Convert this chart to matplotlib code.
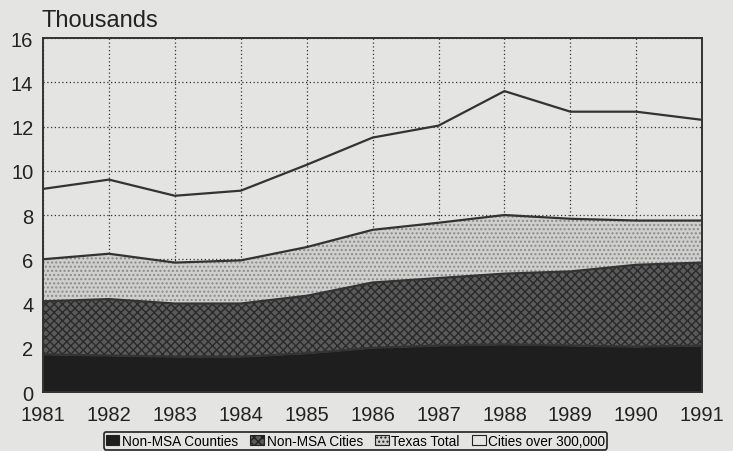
import matplotlib
matplotlib.use('Agg')
import matplotlib.pyplot as plt
from matplotlib.patches import Patch

plt.rcParams['font.family'] = ['Liberation Sans', 'DejaVu Sans']
plt.rcParams['hatch.linewidth'] = 1.0

years = [1981, 1982, 1983, 1984, 1985, 1986, 1987, 1988, 1989, 1990, 1991]
non_msa_counties = [1.7, 1.65, 1.6, 1.6, 1.75, 2.0, 2.1, 2.15, 2.1, 2.05, 2.1]
non_msa_cities = [2.4, 2.55, 2.4, 2.4, 2.6, 2.95, 3.05, 3.2, 3.35, 3.7, 3.75]
texas_total = [1.9, 2.05, 1.85, 1.95, 2.2, 2.38, 2.5, 2.65, 2.38, 2.0, 1.9]
cities_300k = [3.18, 3.35, 3.02, 3.15, 3.72, 4.17, 4.39, 5.6, 4.84, 4.92, 4.55]
labels = ['Non-MSA Counties', 'Non-MSA Cities', 'Texas Total', 'Cities over 300,000']

bg = '#e4e4e2'
fig = plt.figure(figsize=(7.33, 4.52), dpi=100, facecolor=bg)
ax = fig.add_axes([0.0587, 0.1305, 0.8993, 0.7832], facecolor=bg)

series = [non_msa_counties, non_msa_cities, texas_total, cities_300k]
faces = ['#1e1e1e', '#5a5a5a', '#cfcfcd', 'none']
hatches = [None, 'xxxx', '....', None]
hatch_cols = ['#1e1e1e', '#2a2a2a', '#8a8a8a', '#333333']

bottom = [0.0] * len(years)
for vals, fc, h, hc in zip(series, faces, hatches, hatch_cols):
    top = [b + v for b, v in zip(bottom, vals)]
    ax.fill_between(years, bottom, top, facecolor=fc, hatch=h, edgecolor=hc,
                    linewidth=0, zorder=2)
    ax.plot(years, top, color='#333333', lw=1.6, zorder=3)
    bottom = top

ax.set_xlim(1981, 1991)
ax.set_ylim(0, 16)
ax.set_xticks(years)
ax.set_yticks(range(0, 17, 2))
ax.tick_params(length=0, labelsize=14.5, colors='#222222')
ax.tick_params(axis='x', pad=9)
ax.tick_params(axis='y', pad=7)
ax.grid(True, color='#333333', linestyle=(0, (1, 2)), linewidth=0.9, zorder=1)
ax.set_axisbelow(True)
for s in ax.spines.values():
    s.set_color('#333333')
    s.set_linewidth(1.4)
    s.set_zorder(4)

fig.text(0.057, 0.940, 'Thousands', fontsize=17, color='#222222', ha='left', va='baseline')

handles = [Patch(facecolor=fc if fc != 'none' else bg, hatch=h, edgecolor='#222222', linewidth=0.8)
           for fc, h in zip(faces, hatches)]
leg = fig.legend(handles, labels, loc='center', bbox_to_anchor=(0.485, 0.023), ncol=4,
                 fontsize=9.8, frameon=True, fancybox=True, edgecolor='#222222',
                 facecolor=bg, handlelength=1.0, handleheight=0.8, handletextpad=0.2,
                 columnspacing=0.9, borderpad=0.15, borderaxespad=0)
leg.get_frame().set_linewidth(1.2)
leg.get_frame().set_alpha(1)

fig.savefig('out.png', dpi=100, facecolor=bg)
